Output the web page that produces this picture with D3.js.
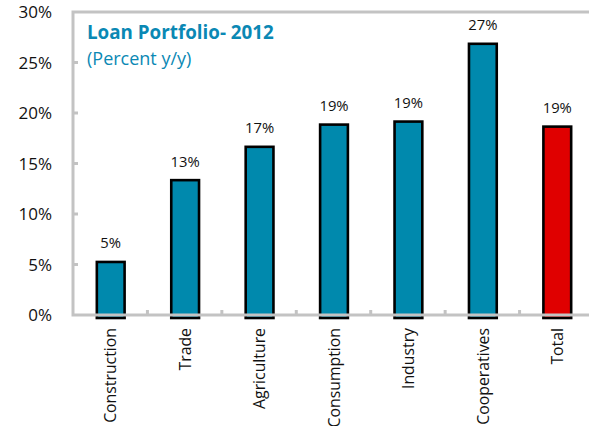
<!DOCTYPE html>
<html>
<head>
<meta charset="utf-8">
<script src="https://cdn.jsdelivr.net/npm/d3@7/dist/d3.min.js"></script>
<style>
  html, body { margin: 0; padding: 0; background: #fff; }
  svg { display: block; font-family: "Open Sans", "Noto Sans", sans-serif; }
</style>
</head>
<body>
<svg id="chart" width="589" height="426"></svg>
<script>
// Loan portfolio growth by sector, 2012 (percent y/y)
const categories = ["Construction", "Trade", "Agriculture", "Consumption", "Industry", "Cooperatives", "Total"];
const values = [5.4, 13.5, 16.8, 19.0, 19.3, 27.0, 18.8];
const valueLabels = ["5%", "13%", "17%", "19%", "19%", "27%", "19%"];
const yTicks = [0, 5, 10, 15, 20, 25, 30];
const highlight = ["Total"];

const svg = d3.select("#chart");
const plotLeft = 73, plotRight = 594, plotTop = 12, plotBottom = 315;

const x = d3.scaleBand().domain(categories).range([plotLeft, plotRight])
  .paddingInner(0.6).paddingOuter(0.3);
const y = d3.scaleLinear().domain([0, 30]).range([plotBottom, plotTop]);

const grey = "#c3c3c3";

// y axis labels
svg.append("g").selectAll("text").data(yTicks).join("text")
  .attr("x", 52).attr("y", d => y(d)).attr("dy", "0.36em")
  .attr("text-anchor", "end").attr("font-size", 17).attr("fill", "#111")
  .text(d => d + "%");

// inward tick marks on the y axis
svg.append("g").selectAll("line").data(yTicks.slice(1, -1)).join("line")
  .attr("x1", plotLeft).attr("x2", plotLeft + 5)
  .attr("y1", d => y(d)).attr("y2", d => y(d))
  .attr("stroke", grey).attr("stroke-width", 3);

// tick marks between categories on the x axis
const gaps = categories.slice(1).map(c => x(c) - x.step() * x.paddingInner() / 2);
svg.append("g").selectAll("line").data(gaps).join("line")
  .attr("x1", d => d).attr("x2", d => d)
  .attr("y1", plotBottom).attr("y2", plotBottom - 5)
  .attr("stroke", grey).attr("stroke-width", 3);

// bars
svg.append("g").selectAll("rect").data(categories).join("rect")
  .attr("x", d => x(d) + 1.5)
  .attr("width", x.bandwidth() - 2)
  .attr("y", (d, i) => y(values[i]) + 1.5)
  .attr("height", (d, i) => plotBottom + 1.5 - y(values[i]))
  .attr("fill", d => highlight.includes(d) ? "#e00000" : "#0089ad")
  .attr("stroke", "#000").attr("stroke-width", 2.6);

// frame: left, top and bottom edges
svg.append("path")
  .attr("d", `M${plotRight},${plotTop}H${plotLeft}V${plotBottom}H${plotRight}`)
  .attr("fill", "none").attr("stroke", grey).attr("stroke-width", 3);

// value labels
svg.append("g").selectAll("text").data(categories).join("text")
  .attr("x", d => x(d) + x.bandwidth() / 2 + 0.5)
  .attr("y", (d, i) => y(values[i]) - 12)
  .attr("text-anchor", "middle").attr("font-size", 14.8).attr("fill", "#111")
  .text((d, i) => valueLabels[i]);

// category labels, rotated
svg.append("g").selectAll("text").data(categories).join("text")
  .attr("transform", d => `translate(${x(d) + x.bandwidth() / 2 + 0.5},${plotBottom + 13}) rotate(-90)`)
  .attr("dy", "0.36em")
  .attr("text-anchor", "end").attr("font-size", 15.8).attr("fill", "#111")
  .text(d => d);

// title
svg.append("text").attr("x", 87).attr("y", 39)
  .attr("font-size", 18.8).attr("font-weight", "bold").attr("fill", "#0a88b4")
  .text("Loan Portfolio- 2012");
svg.append("text").attr("x", 87).attr("y", 65)
  .attr("font-size", 18).attr("fill", "#0a88b4")
  .text("(Percent y/y)");
</script>
</body>
</html>
